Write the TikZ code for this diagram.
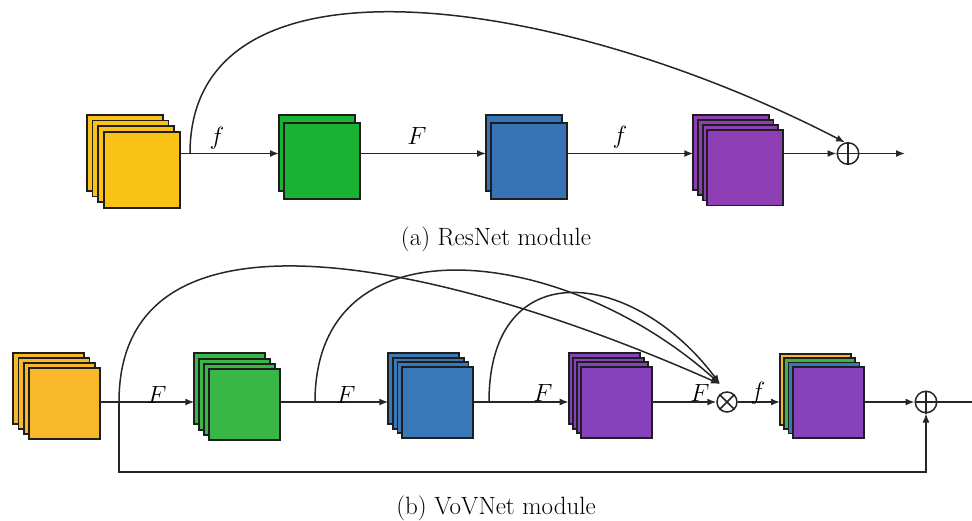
\documentclass[tikz,border=0pt]{standalone}
\usetikzlibrary{arrows.meta,calc}

% fill colours of the feature maps
\definecolor{yelA}{RGB}{250,193,22}
\definecolor{grnA}{RGB}{27,178,52}
\definecolor{bluA}{RGB}{56,116,181}
\definecolor{purA}{RGB}{142,63,182}
\definecolor{yelB}{RGB}{248,184,42}
\definecolor{grnB}{RGB}{56,182,70}
\definecolor{bluB}{RGB}{56,120,185}
\definecolor{purB}{RGB}{134,66,186}
\definecolor{edge}{RGB}{30,30,30}

\tikzset{
  fmapbox/.style={rectangle, draw=edge, line width=1.8pt, inner sep=0pt, outer sep=0pt},
  flow/.style={line width=1.5pt, draw=black!85},
  arr/.style={flow, -{Latex[length=9pt,width=7pt]}},
  opnode/.style={circle, draw=black!85, line width=1.5pt, inner sep=0pt},
  lbl/.style={font=\fontsize{24}{28}\selectfont, inner sep=0pt},
  captext/.style={font=\fontsize{25}{30}\selectfont, inner sep=0pt},
}

% one feature-map sheet: name, x, y (top-left corner), side, fill
\newcommand\fmap[5]{\node[fmapbox, fill=#5, minimum size=#4pt, anchor=north west] (#1) at (#2,#3) {};}

\begin{document}
\begin{tikzpicture}[x=1pt,y=-1pt]
\useasboundingbox (0,0) rectangle (972,520);

% ---------------- (a) ResNet module ----------------
\coordinate (rowA) at (0,153.5);
\coordinate (jA) at (190,153.5);

\fmap{yA1}{86.7}{114.7}{76}{yelA}
\fmap{yA2}{92.5}{120.4}{76}{yelA}
\fmap{yA3}{98.3}{126.0}{76}{yelA}
\fmap{yA4}{104.1}{131.7}{76}{yelA}

\fmap{gA1}{279}{114.7}{76}{grnA}
\fmap{gA2}{284.3}{122.7}{76}{grnA}

\fmap{bA1}{486}{114.7}{76}{bluA}
\fmap{bA2}{490.7}{122.7}{76}{bluA}

\fmap{pA1}{693.3}{114.7}{75.5}{purA}
\fmap{pA2}{698}{119.8}{75.5}{purA}
\fmap{pA3}{702.7}{124.9}{75.5}{purA}
\fmap{pA4}{707.3}{130}{75.5}{purA}

\node[opnode, minimum size=21.5pt] (plusA) at (848,153.5) {};
\draw[flow] (plusA.north) -- (plusA.south) (plusA.west) -- (plusA.east);
\coordinate (outA) at (905,153.5);

\draw[arr] (yA4.east |- rowA) -- (gA1.west |- rowA);
\draw[arr] (gA2.east |- rowA) -- (bA1.west |- rowA);
\draw[arr] (bA2.east |- rowA) -- (pA1.west |- rowA);
\draw[arr] (pA4.east |- rowA) -- (plusA.west);
\draw[arr] (plusA.east) -- (outA);
\draw[arr] (jA) .. controls (190,-60) and (560,-5) .. (plusA.105);

\node[lbl] (lfA1) at (217,138) {$f$};
\node[lbl] (lFA) at (417,136) {$F$};
\node[lbl] (lfA2) at (620,137) {$f$};

\node[captext] (capA) at (496,239) {(a) ResNet module};

% ---------------- (b) VoVNet module ----------------
\coordinate (rowB) at (0,402);
\coordinate (loopB) at (0,472);
\coordinate (j1) at (119,402);
\coordinate (j2) at (315,402);
\coordinate (j3) at (489,402);
\coordinate (otin) at (720,384);
\coordinate (outB) at (972,402);

\fmap{yB1}{13.3}{353.3}{71}{yelB}
\fmap{yB2}{18.5}{358.3}{71}{yelB}
\fmap{yB3}{23.7}{363.3}{71}{yelB}
\fmap{yB4}{28.9}{368.3}{71}{yelB}

\fmap{gB1}{194.3}{353.3}{71}{grnB}
\fmap{gB2}{199.3}{358.6}{71}{grnB}
\fmap{gB3}{204.3}{363.9}{71}{grnB}
\fmap{gB4}{209.3}{369.2}{71}{grnB}

\fmap{bB1}{388.3}{353.3}{71}{bluB}
\fmap{bB2}{392.9}{357.8}{71}{bluB}
\fmap{bB3}{397.4}{362.2}{71}{bluB}
\fmap{bB4}{402}{366.7}{71}{bluB}

\fmap{pB1}{568.7}{353.3}{71}{purB}
\fmap{pB2}{572.7}{357.8}{71}{purB}
\fmap{pB3}{576.7}{362.2}{71}{purB}
\fmap{pB4}{580.7}{366.7}{71}{purB}

\node[opnode, minimum size=20pt] (otimes) at (727,402) {};
\draw[flow] (otimes.north west) -- (otimes.south east) (otimes.north east) -- (otimes.south west);

\fmap{cB1}{780}{354}{71}{yelB}
\fmap{cB2}{784.2}{358.2}{71}{grnB}
\fmap{cB3}{788.5}{362.5}{71}{bluB}
\fmap{cB4}{792.7}{366.7}{71}{purB}

\node[opnode, minimum size=21.5pt] (plusB) at (926,402) {};
\draw[flow] (plusB.north) -- (plusB.south) (plusB.west) -- (plusB.east);

\draw[arr] (yB4.east |- rowB) -- (gB1.west |- rowB);
\draw[arr] (gB4.east |- rowB) -- (bB1.west |- rowB);
\draw[arr] (bB4.east |- rowB) -- (pB1.west |- rowB);
\draw[arr] (pB4.east |- rowB) -- (otimes.west);
\draw[arr] (otimes.east) -- (cB1.west |- rowB);
\draw[arr] (cB4.east |- rowB) -- (plusB.west);
\draw[flow] (plusB.east) -- (outB);

% dense aggregation paths into the concatenation
\draw[arr] (j1) .. controls (119,190) and (440,260) .. (otin);
\draw[arr] (j2) .. controls (315,215) and (565,245) .. (otin);
\draw[arr] (j3) .. controls (489,250) and (635,270) .. (otin);

% identity path
\draw[arr] (j1) -- (j1 |- loopB) -| (plusB.south);

\node[lbl] (lFB1) at (157,395) {$F$};
\node[lbl] (lFB2) at (346,395) {$F$};
\node[lbl] (lFB3) at (543,393) {$F$};
\node[lbl] (lFB4) at (700,393) {$F$};
\node[lbl] (lfB) at (758,393) {$f$};

\node[captext] (capB) at (496,508) {(b) VoVNet module};
\end{tikzpicture}
\end{document}
